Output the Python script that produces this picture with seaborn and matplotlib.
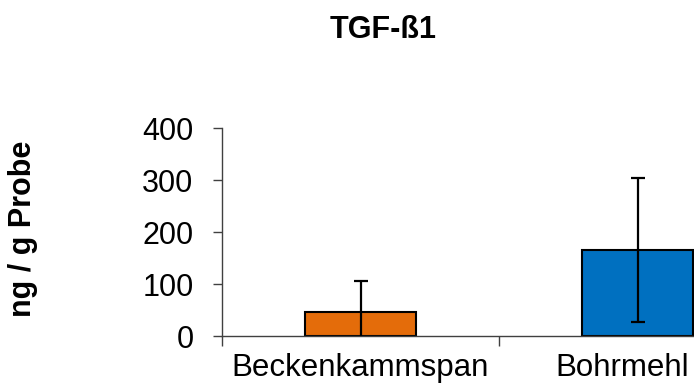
import matplotlib
matplotlib.use('Agg')
import matplotlib.pyplot as plt
import matplotlib.transforms as mtransforms
import seaborn as sns

# data
categories = ['Beckenkammspan', 'Bohrmehl']
means = [46, 166]
sds = [61, 138]
bar_colors = ['#E46C0A', '#0070C0']
y_ticks = [0, 100, 200, 300, 400]

sns.set_style('white')
plt.rcParams['font.family'] = ['Liberation Sans', 'DejaVu Sans']
plt.rcParams['text.color'] = 'black'

fig = plt.figure(figsize=(6.94, 3.91), dpi=100)
# axes runs past the right edge, like the cropped original
ax = fig.add_axes([0.3199, 0.1399, 0.7983, 0.532])

sns.barplot(x=categories, y=means, hue=categories, palette=bar_colors,
            width=0.4, edgecolor='black', linewidth=1.5, legend=False,
            saturation=1, ax=ax)
ax.errorbar(range(len(categories)), means, yerr=sds, fmt='none',
            ecolor='black', elinewidth=1.6, capsize=5, capthick=1.6, zorder=5)

ax.set_xlim(-0.5, len(categories) - 0.5)
ax.set_ylim(0, 400)
ax.set_yticks(y_ticks)
ax.set_yticklabels([str(v) for v in y_ticks])

for side in ['top', 'right']:
    ax.spines[side].set_visible(False)
for side in ['left', 'bottom']:
    ax.spines[side].set_color('#404040')
    ax.spines[side].set_linewidth(1.0)

ax.tick_params(axis='y', direction='out', length=6.5, width=1.0,
               color='#404040', labelcolor='black', pad=14, labelsize=22,
               left=True)
ax.tick_params(axis='x', which='major', length=0, pad=12, labelsize=22.5,
               labelcolor='black')
ax.set_xticks([i - 0.5 for i in range(len(categories) + 1)], minor=True)
ax.tick_params(axis='x', which='minor', direction='out', length=7,
               width=1.0, color='#404040', bottom=True)
ax.set_xlabel('')
ax.set_ylabel('')

# Excel nudged the last label left to keep it inside the picture
labels = ax.get_xticklabels()
shift = mtransforms.ScaledTranslation(-15 / 100, 0, fig.dpi_scale_trans)
labels[-1].set_transform(labels[-1].get_transform() + shift)

fig.text(0.552, 0.903, 'TGF-ß1', ha='center', va='baseline',
         fontsize=22, fontweight='bold', color='black')
fig.text(0.033, 0.414, 'ng / g Probe', ha='center', va='center',
         rotation=90, fontsize=22, fontweight='bold', color='black')

fig.savefig('out.png', dpi=100)
